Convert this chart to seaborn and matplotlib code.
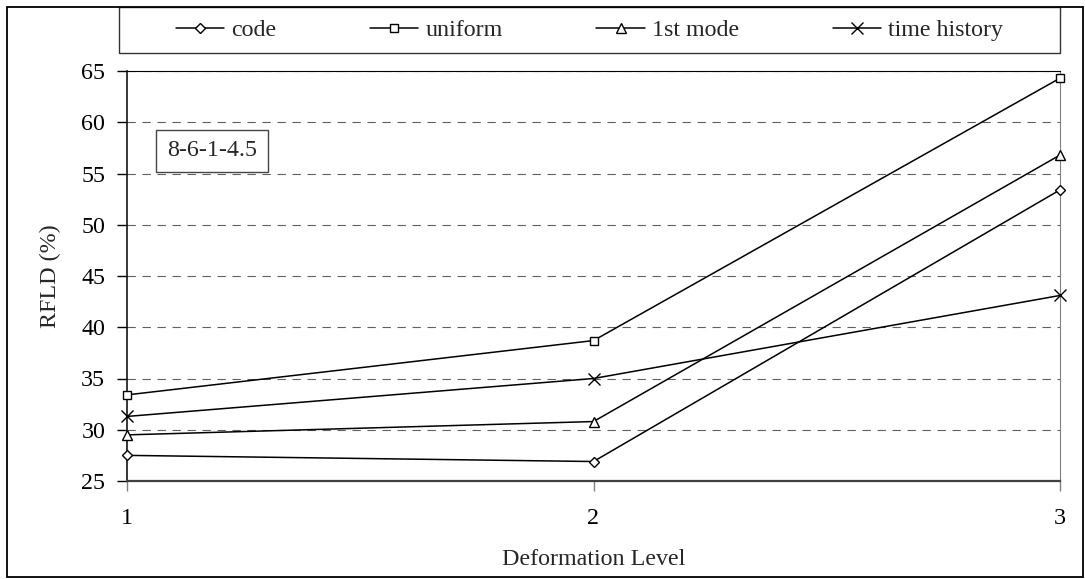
import matplotlib
matplotlib.use("Agg")
import matplotlib.pyplot as plt
import matplotlib.patches as mpatches
import seaborn as sns
import pandas as pd

# ---- data ----
levels = [1, 2, 3]
series_names = ["code", "uniform", "1st mode", "time history"]
code_vals = [27.5, 26.9, 53.4]
uniform_vals = [33.4, 38.7, 64.3]
first_mode_vals = [29.5, 30.8, 56.8]
time_history_vals = [31.3, 35.0, 43.1]
y_ticks = [25, 30, 35, 40, 45, 50, 55, 60, 65]
x_ticks = [1, 2, 3]
annotation_text = "8-6-1-4.5"

values = {
    "code": code_vals,
    "uniform": uniform_vals,
    "1st mode": first_mode_vals,
    "time history": time_history_vals,
}
df = pd.DataFrame(
    [(lv, name, v) for name in series_names for lv, v in zip(levels, values[name])],
    columns=["Deformation Level", "series", "RFLD"],
)

# ---- style ----
sns.set_style("white")
plt.rcParams["font.family"] = ["Liberation Serif", "DejaVu Serif"]
FS = 17.3

W, H = 1085, 579
fig = plt.figure(figsize=(W / 100, H / 100), dpi=100)
ax = fig.add_axes([127 / W, 1 - 481 / H, (1060 - 127) / W, (481 - 71) / H])

marker_style = {
    "code": ("D", 4.8),
    "uniform": ("s", 6.2),
    "1st mode": ("^", 7.2),
    "time history": ("x", 8.3),
}
for name in series_names:
    sub = df[df["series"] == name]
    m, ms = marker_style[name]
    sns.lineplot(
        data=sub, x="Deformation Level", y="RFLD", ax=ax,
        color="black", linewidth=1.1, marker=m, markersize=ms,
        markerfacecolor="white", markeredgecolor="black",
        markeredgewidth=1.0, label=name, zorder=4, clip_on=False,
    )

ax.set_xlim(1, 3)
ax.set_ylim(25, 65)
ax.set_xticks(x_ticks)
ax.set_yticks(y_ticks)
ax.set_xticklabels([str(t) for t in x_ticks])
ax.set_yticklabels([str(t) for t in y_ticks])
ax.tick_params(axis="both", labelsize=FS, colors="black", length=7.2, width=1.0,
               direction="out")
ax.tick_params(axis="y", pad=8.5, left=True)
ax.tick_params(axis="x", pad=12, bottom=True, color="#808080")

ax.yaxis.grid(True, linestyle=(0, (7.5, 6)), color="#606060", linewidth=0.8)
ax.xaxis.grid(False)
ax.set_axisbelow(True)

for side, (c, lw) in {"left": ("black", 1.1), "bottom": ("#404040", 1.6),
                      "top": ("black", 0.8), "right": ("#808080", 0.8)}.items():
    ax.spines[side].set_visible(True)
    ax.spines[side].set_color(c)
    ax.spines[side].set_linewidth(lw)

ax.set_xlabel("Deformation Level", fontsize=FS)
ax.set_ylabel("RFLD (%)", fontsize=FS)
ax.xaxis.set_label_coords(0.5, -0.165)
ax.yaxis.set_label_coords(-0.0707, 0.5)

ax.text(1.182, 57.2, annotation_text, fontsize=FS, ha="center", va="center",
        bbox=dict(boxstyle="square,pad=0.45", fc="white", ec="#444444", lw=1.0),
        zorder=5)

# legend
handles, labels = ax.get_legend_handles_labels()
if ax.get_legend() is not None:
    ax.get_legend().remove()
fig.legend(handles, labels, ncol=4, loc="center",
           bbox_to_anchor=(589.5 / W, 1 - 30 / H), frameon=False,
           fontsize=FS, handlelength=2.0, handletextpad=0.3, columnspacing=3.9)

# legend box and outer frame
fig.patches.append(mpatches.Rectangle((119 / W, 1 - 53 / H), (1060 - 119) / W, 46 / H,
                                      transform=fig.transFigure, fill=False,
                                      ec="#333333", lw=1.0))
fig.patches.append(mpatches.Rectangle((7 / W, 2 / H), (1083 - 7) / W, (577 - 7) / H,
                                      transform=fig.transFigure, fill=False,
                                      ec="black", lw=1.3))

fig.savefig("out.png", dpi=100, facecolor="white")
